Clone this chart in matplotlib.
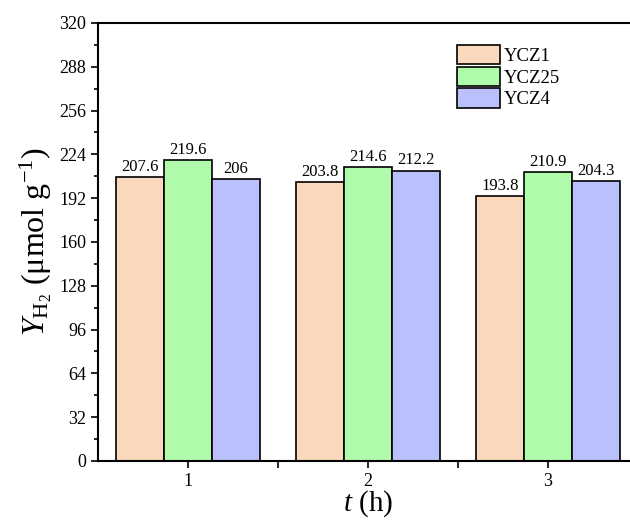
import matplotlib.pyplot as plt
import numpy as np
from matplotlib.ticker import MultipleLocator

plt.rcParams['font.family'] = 'Liberation Serif'
plt.rcParams['mathtext.fontset'] = 'custom'
plt.rcParams['mathtext.rm'] = 'Liberation Serif'
plt.rcParams['mathtext.it'] = 'Liberation Serif:italic'

# --------------------------------------
# Data
# --------------------------------------
times = [1, 2, 3]
series = ['YCZ1', 'YCZ25', 'YCZ4']
ycz1 = [207.6, 203.8, 193.8]
ycz25 = [219.6, 214.6, 210.9]
ycz4 = [206, 212.2, 204.3]
colors = ['#f9d8bb', '#b0fbab', '#bac0fb']

# --------------------------------------
# Grouped bar chart
# --------------------------------------
fig = plt.figure(figsize=(6.3, 5.22), dpi=100)
ax = fig.add_axes([0.1556, 0.117, 0.857, 0.839])

x = np.array(times, dtype=float)
width = 0.8 / 3
for i, (vals, name, c) in enumerate(zip([ycz1, ycz25, ycz4], series, colors)):
    pos = x + (i - 1) * width
    bars = ax.bar(pos, vals, width=width, color=c, edgecolor='black',
                  linewidth=1.2, label=name)
    for b, v in zip(bars, vals):
        ax.text(b.get_x() + b.get_width() / 2, v + 1.5, f'{v:g}',
                ha='center', va='bottom', fontsize=12)

ax.set_xlim(0.5, 3.5)
ax.set_ylim(0, 320)
ax.set_xticks(times)
ax.set_xticks([1.5, 2.5], minor=True)
ax.yaxis.set_major_locator(MultipleLocator(32))
ax.yaxis.set_minor_locator(MultipleLocator(16))
ax.tick_params(axis='both', which='major', direction='out', length=5,
               width=1.2, labelsize=13)
ax.tick_params(axis='both', which='minor', direction='out', length=3, width=1.2)
ax.tick_params(axis='x', which='minor', length=5)
for s in ax.spines.values():
    s.set_linewidth(1.5)
ax.spines['right'].set_visible(False)  # frame runs past the right edge

ax.set_xlabel('$t$ (h)', fontsize=21, labelpad=-1)
ax.set_ylabel(r'$Y_{\mathrm{H_2}}$ (μmol g$^{-1}$)', fontsize=23, labelpad=4)

ax.legend(loc='upper left', bbox_to_anchor=(0.665, 0.95), frameon=False,
          fontsize=13.5, handlelength=2.3, handleheight=1.2, labelspacing=0.1,
          handletextpad=0.2, borderaxespad=0, borderpad=0)

plt.savefig('out.png', dpi=100)
